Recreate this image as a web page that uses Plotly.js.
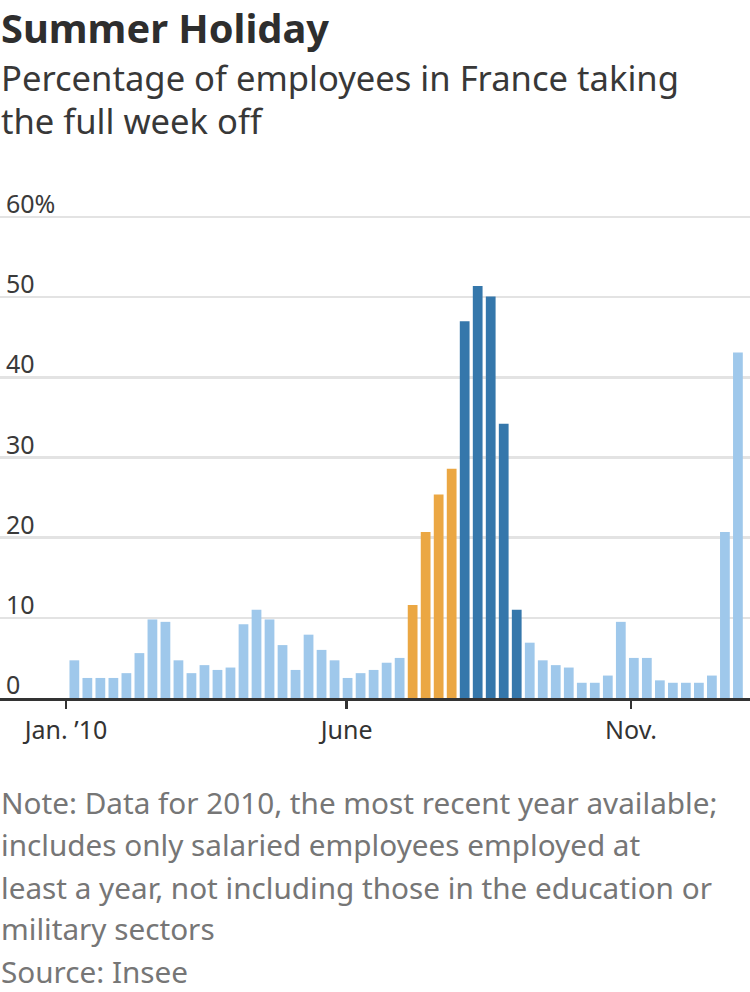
<!DOCTYPE html>
<html>
<head>
<meta charset="utf-8">
<script src="https://cdn.plot.ly/plotly-3.0.1.min.js"></script>
<style>
  html, body { margin: 0; padding: 0; background: #fff; }
  #myPlot { width: 750px; height: 992px; }
</style>
</head>
<body>
<div id="myPlot"></div>
<script>
// share of employees taking the full week off, week 1 .. week 52 of 2010
let share = [
  4.7, 2.5, 2.5, 2.5, 3.1, 5.6, 9.8, 9.5, 4.7, 3.1,
  4.1, 3.5, 3.8, 9.2, 11.0, 9.8, 6.6, 3.5, 7.9, 6.0,
  4.7, 2.5, 3.1, 3.5, 4.4, 5.0, 11.6, 20.7, 25.4, 28.6,
  47.0, 51.4, 50.1, 34.2, 11.0, 6.9, 4.7, 4.1, 3.8, 1.9,
  1.9, 2.8, 9.5, 5.0, 5.0, 2.2, 1.9, 1.9, 1.9, 2.8,
  20.7, 43.1
];
let julyWeeks = [27, 28, 29, 30];
let augustWeeks = [31, 32, 33, 34, 35];

let xTickVals = ['2010-01-01', '2010-06-01', '2010-11-01'];
let xTickText = ['Jan. \u201910', 'June', 'Nov.'];
let yTickVals = [0, 10, 20, 30, 40, 50, 60];
let yTickText = ['0', '10', '20', '30', '40', '50', '60%'];

let subtitle = ['Percentage of employees in France taking', 'the full week off'];
let notes = [
  'Note: Data for 2010, the most recent year available;',
  'includes only salaried employees employed at',
  'least a year, not including those in the education or',
  'military sectors',
  'Source: Insee'
];

// week dates (middle of each bar)
let weeks = [];
let start = Date.UTC(2010, 0, 5, 12);
for (let i = 0; i < share.length; i++) {
  weeks[i] = new Date(start + i * 7 * 86400000).toISOString().slice(0, 16).replace('T', ' ');
}

let colors = [];
for (let i = 0; i < share.length; i++) {
  let wk = i + 1;
  if (julyWeeks.includes(wk)) colors[i] = '#eba743';
  else if (augustWeeks.includes(wk)) colors[i] = '#3577ab';
  else colors[i] = '#9fc8eb';
}

// page geometry (8.016 px per percentage point, zero line at y=698)
let W = 750, H = 992;
let mTop = 160, mBot = 294;
let plotH = H - mTop - mBot;
let plotBottom = H - mBot;
let yMax = plotH / 8.016;

// place a text line by its baseline (pixels from the top of the page)
function textLine(txt, baseline, size, color, weight) {
  let bottomPx = baseline + 0.293 * size;
  return {
    text: txt,
    xref: 'paper', yref: 'paper',
    x: 0, xanchor: 'left',
    y: (plotBottom - bottomPx) / plotH, yanchor: 'bottom',
    showarrow: false,
    align: 'left',
    borderpad: 0,
    font: { family: 'Noto Sans', size: size, color: color, weight: weight || 400 }
  };
}

let annotations = [];
annotations.push(textLine('Summer Holiday', 44, 39.8, '#2e2e2e', 700));
annotations.push(textLine(subtitle[0], 91.7, 34.6, '#383838'));
annotations.push(textLine(subtitle[1], 135, 34.6, '#383838'));
let noteBase = [815, 857.3, 900, 941.7, 984];
for (let i = 0; i < notes.length; i++) {
  annotations.push(textLine(notes[i], noteBase[i], 29.7, '#767676'));
}

// y labels sit just above their gridlines
for (let i = 0; i < yTickVals.length; i++) {
  annotations.push({
    text: yTickText[i],
    xref: 'paper', yref: 'y',
    x: 0, xanchor: 'left', xshift: 5,
    y: yTickVals[i], yanchor: 'bottom', yshift: -4,
    showarrow: false,
    borderpad: 0,
    font: { family: 'Noto Sans', size: 25, color: '#3a3a3a' }
  });
}

var trace1 = {
  x: weeks,
  y: share,
  type: 'bar',
  width: 5.25 * 86400000,
  marker: { color: colors, line: { width: 0 } },
  hoverinfo: 'skip'
};

var layout = {
  width: W,
  height: H,
  margin: { l: 0, r: 0, t: mTop, b: mBot, pad: 0 },
  paper_bgcolor: '#ffffff',
  plot_bgcolor: '#ffffff',
  showlegend: false,
  font: { family: 'Noto Sans', color: '#333333' },
  xaxis: {
    type: 'date',
    range: ['2009-11-26 12:00', '2011-01-04 00:00'],
    tickmode: 'array',
    tickvals: xTickVals,
    ticktext: xTickText,
    ticks: 'outside',
    ticklen: 8,
    tickwidth: 2.5,
    tickcolor: '#333333',
    showline: true,
    linecolor: '#333333',
    linewidth: 2.5,
    showgrid: false,
    zeroline: false,
    ticklabelstandoff: 0,
    tickfont: { family: 'Noto Sans', size: 25, color: '#333333' },
    automargin: false,
    fixedrange: true
  },
  yaxis: {
    range: [0, yMax],
    tickmode: 'array',
    tickvals: yTickVals,
    showticklabels: false,
    ticks: '',
    showgrid: true,
    gridcolor: '#e3e3e3',
    gridwidth: 2.5,
    zeroline: false,
    showline: false,
    automargin: false,
    fixedrange: true
  },
  annotations: annotations
};

Plotly.newPlot('myPlot', [trace1], layout, { displayModeBar: false, staticPlot: true });
</script>
</body>
</html>
